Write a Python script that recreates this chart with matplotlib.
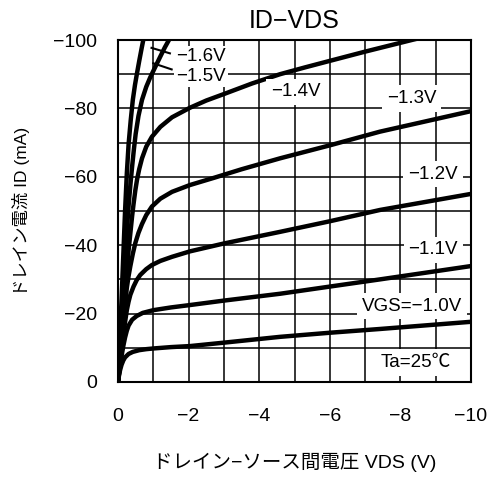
import numpy as np
import matplotlib
matplotlib.use('Agg')
import matplotlib.pyplot as plt

plt.rcParams['font.family'] = ['Liberation Sans', 'Noto Sans CJK JP', 'DejaVu Sans']
plt.rcParams['axes.unicode_minus'] = True

# magnitudes (both axes are negative on the plot)
vds_10 = [0, 0.03, 0.06, 0.1, 0.15, 0.2, 0.3, 0.42, 0.6, 0.8, 1.0, 1.5, 2.04, 3, 4.59, 6, 7.42, 10]
id_10 = [0, 2, 3.5, 5, 6.3, 7.2, 8.2, 8.8, 9.3, 9.6, 9.8, 10.2, 10.5, 11.5, 13.2, 14.4, 15.5, 17.6]

vds_11 = [0, 0.05, 0.1, 0.15, 0.2, 0.25, 0.3, 0.4, 0.53, 0.7, 1.0, 1.5, 2.04, 3, 4.59, 6, 7.42, 10]
id_11 = [0, 4, 7.5, 10.5, 13, 15, 16.5, 18.2, 19.3, 20.2, 21.0, 21.8, 22.5, 23.8, 25.8, 27.9, 30.0, 33.9]

vds_12 = [0, 0.05, 0.1, 0.15, 0.2, 0.25, 0.3, 0.35, 0.44, 0.53, 0.63, 0.8, 0.96, 1.2, 1.53,
          2.04, 3, 4.59, 6, 7.42, 10]
id_12 = [0, 4.5, 9, 13.5, 17.5, 21, 23.5, 25.5, 27.9, 29.8, 31.3, 33, 34.2, 35.4, 36.6,
         38.2, 40.5, 43.9, 47.0, 50.3, 55.0]

vds_13 = [0, 0.05, 0.1, 0.15, 0.2, 0.25, 0.3, 0.35, 0.42, 0.49, 0.58, 0.68, 0.8, 0.96, 1.2,
          1.53, 2.04, 2.75, 3.5, 4.59, 6, 7.42, 10]
id_13 = [0, 5.5, 11, 16.5, 22.5, 27.5, 31, 33.9, 37.5, 40.6, 43.6, 46.2, 48.8, 51.3, 53.6,
         55.6, 57.6, 59.8, 62.2, 65.4, 69.2, 73.2, 79.2]

vds_14 = [0, 0.05, 0.1, 0.15, 0.2, 0.25, 0.3, 0.35, 0.4, 0.44, 0.49, 0.54, 0.6, 0.68, 0.8,
          0.96, 1.2, 1.53, 2.04, 2.5, 3, 3.8, 4.59, 5.3, 6, 7, 8.32, 8.6]
id_14 = [0, 6, 12.5, 19, 26, 32.5, 38.5, 43.5, 48.5, 52, 56, 59.2, 62.2, 65.4, 68.8,
         71.7, 74.6, 77.4, 80.2, 82.3, 84.2, 87.3, 90.0, 92.0, 93.9, 96.6, 100, 100.7]

vds_15 = [0, 0.05, 0.1, 0.15, 0.2, 0.25, 0.3, 0.35, 0.4, 0.45, 0.5, 0.58, 0.68, 0.8, 0.91,
          1.05, 1.2, 1.33, 1.47, 1.55]
id_15 = [0, 9, 18, 27, 36, 44, 51.5, 57.5, 63, 68, 72.5, 77.8, 82.5, 86.3, 89,
         92, 95.2, 97.9, 100.5, 102]

vds_16 = [0, 0.05, 0.1, 0.15, 0.2, 0.25, 0.3, 0.36, 0.42, 0.48, 0.53, 0.6, 0.67, 0.72, 0.75]
id_16 = [0, 12, 24, 37, 50, 61, 69.5, 76.5, 82.5, 86.8, 89.8, 93.8, 97.6, 100.2, 101.6]

curves = [(vds_10, id_10), (vds_11, id_11), (vds_12, id_12), (vds_13, id_13),
          (vds_14, id_14), (vds_15, id_15), (vds_16, id_16)]

# label anchor points (VDS, ID magnitudes)
label_text = ['VGS=−1.0V', '−1.1V', '−1.2V', '−1.3V', '−1.4V', '−1.5V', '−1.6V']
label_x = [8.34, 8.93, 8.92, 8.32, 5.04, 2.35, 2.35]
label_y = [22.2, 38.6, 60.8, 83.0, 84.8, 89.3, 95.3]
label_pad = [3.5, 3.5, 3.5, 3.5, 3.5, 1.5, 1.5]

# leader lines for the two steep curves
lead_x = [[1.0, 1.52], [0.95, 1.47]]
lead_y = [[93.2, 91.4], [97.7, 96.1]]

fig = plt.figure(figsize=(4.88, 4.82), dpi=100)
ax = fig.add_axes([0.2418, 0.2075, 0.7234, 0.7095])

for vds, i_d in curves:
    ax.plot(-np.array(vds), -np.array(i_d), color='black', lw=3.2,
            solid_capstyle='butt', solid_joinstyle='round', zorder=3)

for lx, ly in zip(lead_x, lead_y):
    ax.plot(-np.array(lx), -np.array(ly), color='black', lw=1.5, zorder=3)

for t, x, y, p in zip(label_text, label_x, label_y, label_pad):
    ax.text(-x, -y, t, fontsize=13.5, ha='center', va='center', zorder=4,
            bbox=dict(facecolor='white', edgecolor='none', pad=p))

ax.text(-8.44, -5.6, 'Ta=25℃', fontsize=13.5, ha='center', va='center', zorder=4,
        bbox=dict(facecolor='white', edgecolor='none', pad=3.5))

ax.set_xlim(0, -10)
ax.set_ylim(0, -100)
ax.set_xticks(np.arange(0, -11, -2))
ax.set_yticks(np.arange(0, -101, -20))
ax.set_xticks(np.arange(0, -11, -1), minor=True)
ax.set_yticks(np.arange(0, -101, -10), minor=True)
ax.grid(True, which='both', color='black', lw=1.1)
ax.set_axisbelow(True)
ax.tick_params(which='both', length=0, labelsize=14)
ax.tick_params(axis='x', pad=19)
ax.tick_params(axis='y', pad=15)
for s in ax.spines.values():
    s.set_linewidth(1.5)

ax.set_title('ID−VDS', fontsize=18, pad=9)
ax.set_xlabel('ドレイン−ソース間電圧 VDS (V)', fontsize=14, labelpad=20)
ax.set_ylabel('ドレイン電流 ID (mA)', fontsize=12.5, labelpad=17)

fig.savefig('out.png', dpi=100)
